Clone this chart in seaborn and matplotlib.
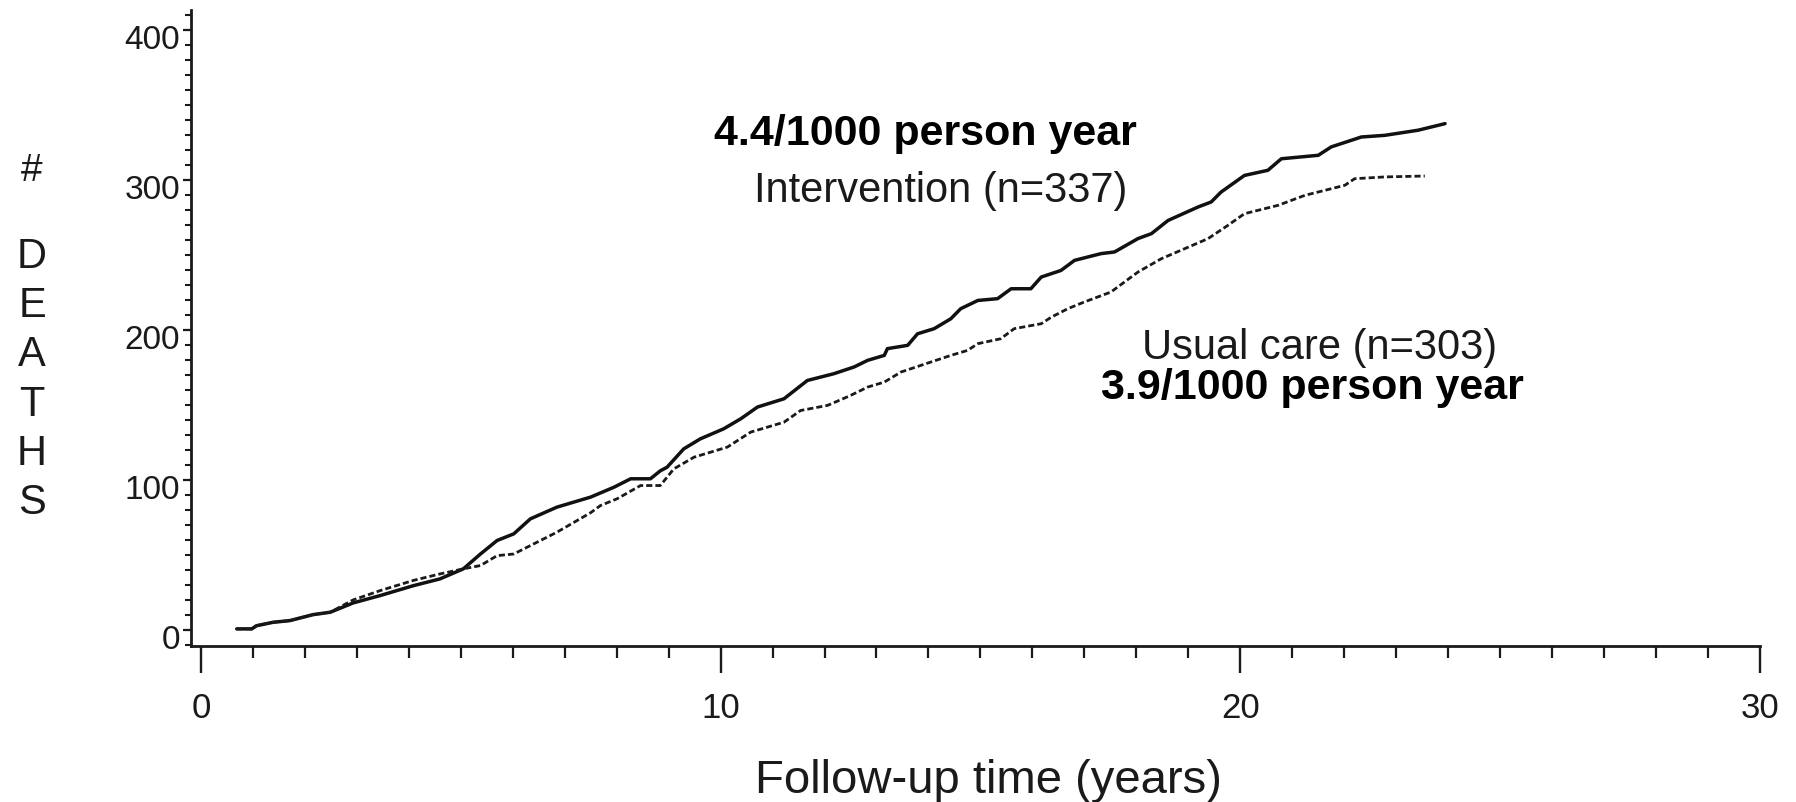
import matplotlib
matplotlib.use("Agg")
import matplotlib.pyplot as plt
from matplotlib.ticker import MultipleLocator
from matplotlib.transforms import ScaledTranslation
import pandas as pd
import seaborn as sns

# Cumulative number of deaths over follow-up (years)
years_intervention = [0.69, 0.98, 1.07, 1.39, 1.71, 2.16, 2.49, 2.93, 3.45, 4.09,
                      4.60, 5.05, 5.38, 5.70, 6.02, 6.34, 6.85, 7.50, 7.95, 8.27,
                      8.65, 8.84, 8.97, 9.29, 9.61, 10.06, 10.39, 10.71, 11.22, 11.67,
                      12.18, 12.57, 12.83, 13.15, 13.21, 13.60, 13.79, 14.11, 14.43, 14.62,
                      14.95, 15.33, 15.59, 15.97, 16.17, 16.55, 16.81, 17.32, 17.58, 18.03,
                      18.29, 18.61, 19.19, 19.44, 19.63, 20.08, 20.53, 20.79, 21.50, 21.75,
                      22.33, 22.78, 23.42, 23.68, 23.94]
deaths_intervention = [0.7, 0.7, 2.8, 5.1, 6.2, 10.2, 11.8, 18.0, 22.9, 29.5,
                       34.0, 40.7, 50.6, 59.6, 64.0, 74.0, 81.8, 88.5, 95.1, 100.7,
                       100.7, 106.0, 108.4, 120.6, 127.3, 134.0, 140.7, 148.5, 154.0, 166.2,
                       170.7, 175.2, 179.6, 182.9, 187.4, 189.6, 197.3, 200.7, 207.3, 214.0,
                       219.5, 220.7, 227.3, 227.3, 235.1, 239.5, 246.2, 250.7, 251.8, 260.7,
                       264.0, 272.8, 281.8, 285.1, 291.7, 302.8, 306.2, 313.9, 316.2, 321.8,
                       328.4, 329.5, 332.9, 335.1, 337.3]

years_usual = [0.69, 0.98, 1.07, 1.39, 1.71, 2.16, 2.49, 2.93, 3.45, 4.09,
               4.60, 5.05, 5.38, 5.70, 6.02, 6.34, 6.85, 7.50, 7.69, 8.01,
               8.46, 8.84, 9.10, 9.49, 10.13, 10.58, 11.22, 11.54, 12.06, 12.50,
               12.83, 13.15, 13.47, 13.85, 14.43, 14.75, 14.95, 15.39, 15.65, 16.17,
               16.36, 16.68, 17.00, 17.51, 18.03, 18.48, 18.93, 19.38, 19.76, 20.08,
               20.73, 21.24, 22.01, 22.20, 22.78, 23.55]
deaths_usual = [0.7, 0.7, 2.8, 5.1, 6.2, 10.2, 11.8, 20.0, 26.2, 33.0,
                37.3, 40.7, 42.9, 49.5, 50.6, 56.2, 65.1, 78.1, 82.9, 87.4,
                96.2, 96.2, 107.3, 115.1, 121.8, 131.8, 138.4, 146.2, 149.6, 156.2,
                161.8, 165.1, 171.8, 176.2, 182.9, 186.2, 190.7, 194.0, 200.7, 204.0,
                208.3, 214.0, 218.5, 225.1, 238.4, 247.3, 254.0, 260.7, 269.5, 277.3,
                282.9, 289.5, 296.2, 300.6, 301.8, 302.4]

x_major_ticks = [0, 10, 20, 30]
y_major_ticks = [0, 100, 200, 300, 400]

sns.set_style("ticks")
plt.rcParams["font.family"] = ["Liberation Sans", "DejaVu Sans"]

df_int = pd.DataFrame({"years": years_intervention, "deaths": deaths_intervention})
df_usual = pd.DataFrame({"years": years_usual, "deaths": deaths_usual})

fig = plt.figure(figsize=(17.96, 8.03), dpi=100)
ax = fig.add_axes([191 / 1796, 1 - 647 / 803, 1569 / 1796, 636 / 803])

sns.lineplot(data=df_int, x="years", y="deaths", ax=ax, color="#111111",
             linewidth=2.5, estimator=None, sort=False)
sns.lineplot(data=df_usual, x="years", y="deaths", ax=ax, color="#1a1a1a",
             linewidth=2.0, linestyle=(0, (2.2, 1.1)), estimator=None, sort=False)

ax.set_xlim(-0.19, 30)
ax.set_ylim(-10.7, 413)
ax.set_xticks(x_major_ticks)
ax.set_yticks(y_major_ticks)
ax.xaxis.set_minor_locator(MultipleLocator(1))
ax.yaxis.set_minor_locator(MultipleLocator(10))

for side in ["top", "right"]:
    ax.spines[side].set_visible(False)
for side in ["left", "bottom"]:
    ax.spines[side].set_linewidth(2.0)
    ax.spines[side].set_color("#1a1a1a")

ax.tick_params(axis="x", which="major", length=19.5, width=1.7, pad=13,
               labelsize=25, colors="#1a1a1a", direction="out")
ax.tick_params(axis="x", which="minor", length=8.5, width=1.6,
               color="#1a1a1a", direction="out")
ax.tick_params(axis="y", which="major", length=6, width=1.6, pad=2,
               labelsize=24, colors="#1a1a1a", direction="out")
ax.tick_params(axis="y", which="minor", length=4, width=1.5,
               color="#1a1a1a", direction="out")

# y tick labels sit slightly below their ticks
shift = ScaledTranslation(0, -6 / 100, fig.dpi_scale_trans)
for lab in ax.get_yticklabels():
    lab.set_transform(lab.get_transform() + shift)

ax.set_xlabel("")
ax.set_ylabel("")

# Group annotations
ax.text(13.94, 331.3, "4.4/1000 person year", ha="center", va="center",
        fontsize=31, fontweight="bold", color="black")
ax.text(14.24, 293.0, "Intervention (n=337)", ha="center", va="center",
        fontsize=30, color="#1a1a1a")
ax.text(21.52, 188.4, "Usual care (n=303)", ha="center", va="center",
        fontsize=30, color="#1a1a1a")
ax.text(21.39, 161.7, "3.9/1000 person year", ha="center", va="center",
        fontsize=31, fontweight="bold", color="black")

# Axis titles
fig.text(988 / 1796, 1 - 781 / 803, "Follow-up time (years)", ha="center",
         va="center", fontsize=34, color="#1a1a1a")
fig.text(32 / 1796, 1 - 171 / 803, "#", ha="center", va="center",
         fontsize=28, color="#1a1a1a")
for i, ch in enumerate("DEATHS"):
    fig.text(32 / 1796, 1 - (257 + 49.2 * i) / 803, ch, ha="center",
             va="center", fontsize=30, color="#1a1a1a")

fig.savefig("out.png", dpi=100, facecolor="white")
